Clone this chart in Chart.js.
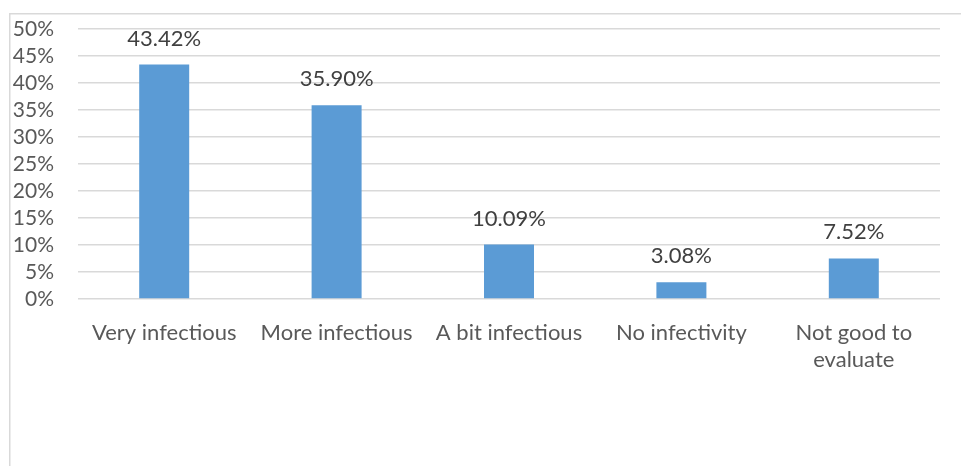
<!DOCTYPE html>
<html>
<head>
<meta charset="utf-8">
<script src="https://cdn.jsdelivr.net/npm/chart.js@4"></script>
<style>
  html, body { margin: 0; padding: 0; background: #ffffff; }
  #wrap { position: relative; width: 961px; height: 466px; }
</style>
</head>
<body>
<div id="wrap"><canvas id="chart"></canvas></div>
<script>
const categories = [
  "Very infectious",
  "More infectious",
  "A bit infectious",
  "No infectivity",
  ["Not good to", "evaluate"]
];
const shares = [43.42, 35.9, 10.09, 3.08, 7.52];
const yTicks = [0, 5, 10, 15, 20, 25, 30, 35, 40, 45, 50];

const FONT = "Lato, 'Open Sans', sans-serif";

// outer frame (only top and left edges are visible in the crop)
const framePlugin = {
  id: "frame",
  beforeDraw(chart) {
    const ctx = chart.ctx;
    ctx.save();
    ctx.strokeStyle = "#d9d9d9";
    ctx.lineWidth = 1.5;
    ctx.beginPath();
    ctx.moveTo(9.75, chart.height + 2);
    ctx.lineTo(9.75, 13.75);
    ctx.lineTo(chart.width + 2, 13.75);
    ctx.stroke();
    ctx.restore();
  }
};

// value labels above each bar
const valueLabels = {
  id: "valueLabels",
  afterDatasetsDraw(chart) {
    const ctx = chart.ctx;
    const meta = chart.getDatasetMeta(0);
    ctx.save();
    ctx.fillStyle = "#404040";
    ctx.font = "22px " + FONT;
    ctx.textAlign = "center";
    ctx.textBaseline = "alphabetic";
    meta.data.forEach((bar, i) => {
      ctx.fillText(shares[i].toFixed(2) + "%", bar.x, bar.y - 19);
    });
    ctx.restore();
  }
};

new Chart(document.getElementById("chart"), {
  type: "bar",
  data: {
    labels: categories,
    datasets: [
      {
        data: shares,
        backgroundColor: "#5b9bd5",
        borderWidth: 0,
        barPercentage: 0.29,
        categoryPercentage: 1
      }
    ]
  },
  options: {
    responsive: true,
    maintainAspectRatio: false,
    animation: false,
    layout: { padding: { top: 29, right: 21, bottom: 0, left: 0 } },
    plugins: {
      legend: { display: false },
      tooltip: { enabled: false }
    },
    scales: {
      x: {
        grid: { display: false, drawTicks: false },
        border: { display: false },
        ticks: {
          color: "#595959",
          font: { family: FONT, size: 22 },
          padding: 21,
          maxRotation: 0,
          autoSkip: false
        },
        afterFit(scale) {
          scale.height = 167;
        }
      },
      y: {
        min: 0,
        max: 50,
        afterBuildTicks(scale) {
          scale.ticks = yTicks.map((v) => ({ value: v }));
        },
        grid: { color: "#d9d9d9", lineWidth: 1.5, drawTicks: false },
        border: { display: false },
        ticks: {
          color: "#595959",
          font: { family: FONT, size: 21 },
          padding: 24,
          autoSkip: false,
          callback: (v) => v + "%"
        },
        afterFit(scale) {
          scale.width = 78;
          scale.paddingTop = 0;
          scale.paddingBottom = 0;
        }
      }
    }
  },
  plugins: [framePlugin, valueLabels]
});
</script>
</body>
</html>
